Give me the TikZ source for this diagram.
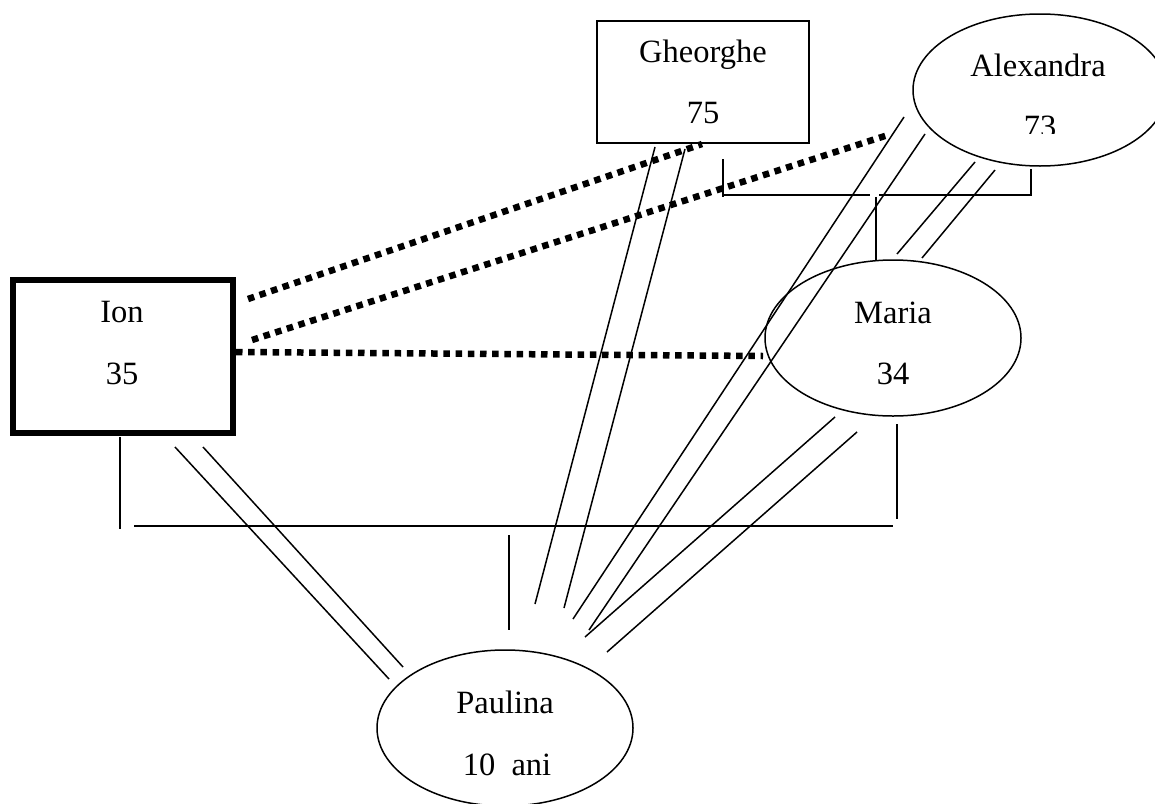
\documentclass[tikz,border=0pt]{standalone}
\usepackage{fontspec}
\setmainfont{Liberation Serif}
\usetikzlibrary{shapes.geometric}
\begin{document}
\begin{tikzpicture}[x=1pt,y=-1pt,
  ln/.style={line width=1.5pt,line cap=butt},
  dots/.style={line width=6.5pt,dash pattern=on 6.5pt off 5.7pt},
  box/.style={draw,line width=1.5pt,rectangle,inner sep=0pt},
  ell/.style={draw,line width=1.5pt,ellipse,inner sep=0pt},
  txt/.style={anchor=base,inner sep=0pt,font=\fontsize{32.5}{38}\selectfont}]
\useasboundingbox (0,0) rectangle (1155,803);
% shapes
\node[box,minimum width=212pt,minimum height=122pt] (gh) at (703,82) {};
\node[box,line width=6pt,minimum width=220pt,minimum height=153pt] (ion) at (123,356.5) {};
\node[ell,minimum width=254pt,minimum height=152pt] (al) at (1040,90) {};
\node[ell,minimum width=256pt,minimum height=156pt] (ma) at (893,338) {};
\node[ell,minimum width=256pt,minimum height=156pt] (pa) at (505,728) {};
% texts
\node[txt] (ghn) at (703,62) {Gheorghe};
\node[txt] (gha) at (703,123) {75};
\node[txt] (aln) at (1038,76) {Alexandra};
\begin{scope}
\clip (900,100) rectangle (1155,133);
\node[txt] (ala) at (1040,137) {73};
\end{scope}
\node[txt] (man) at (893,323) {Maria};
\node[txt] (maa) at (893,384) {34};
\node[txt] (ionn) at (122,322) {Ion};
\node[txt] (iona) at (122,384) {35};
\node[txt] (pan) at (505,713) {Paulina};
\node[txt] (paa) at (507,775) {10\ \ ani};
% connector end points
\coordinate (d1a) at (248,299); \coordinate (d1b) at (702,144);
\coordinate (d2a) at (252,340); \coordinate (d2b) at (888,135);
\coordinate (d3a) at (236,352); \coordinate (d3b) at (763,356);
\coordinate (ip1a) at (175,447); \coordinate (ip1b) at (389,679);
\coordinate (ip2a) at (203,447); \coordinate (ip2b) at (403,667);
\coordinate (gp1a) at (655,147); \coordinate (gp1b) at (535,604);
\coordinate (gp2a) at (685,149); \coordinate (gp2b) at (564,608);
\coordinate (ap1a) at (904,117); \coordinate (ap1b) at (573,619);
\coordinate (ap2a) at (925,134); \coordinate (ap2b) at (589,630);
\coordinate (am1a) at (975,162); \coordinate (am1b) at (897,254);
\coordinate (am2a) at (995,170); \coordinate (am2b) at (922,258);
\coordinate (mp1a) at (835,417); \coordinate (mp1b) at (585,637);
\coordinate (mp2a) at (857,432); \coordinate (mp2b) at (607,652);
% parents bracket (top)
\coordinate (gv1) at (723,159); \coordinate (gv2) at (723,197);
\coordinate (h1a) at (723,195); \coordinate (h1b) at (870,195);
\coordinate (h2a) at (879,195); \coordinate (h2b) at (1031,195);
\coordinate (av1) at (1031,169);
\coordinate (mv1) at (876,197); \coordinate (mv2) at (876,260);
% parents bracket (bottom)
\coordinate (iv1) at (120,437); \coordinate (iv2) at (120,529);
\coordinate (hb1) at (134,526); \coordinate (hb2) at (893,526);
\coordinate (mav1) at (897,424); \coordinate (mav2) at (897,519);
\coordinate (pv1) at (509,535); \coordinate (pv2) at (509,630);
% dotted
\draw[dots] (d1a) -- (d1b);
\draw[dots] (d2a) -- (d2b);
\draw[dots] (d3a) -- (d3b);
% double lines
\draw[ln] (ip1a) -- (ip1b); \draw[ln] (ip2a) -- (ip2b);
\draw[ln] (gp1a) -- (gp1b); \draw[ln] (gp2a) -- (gp2b);
\draw[ln] (ap1a) -- (ap1b); \draw[ln] (ap2a) -- (ap2b);
\draw[ln] (am1a) -- (am1b); \draw[ln] (am2a) -- (am2b);
\draw[ln] (mp1a) -- (mp1b); \draw[ln] (mp2a) -- (mp2b);
% brackets
\draw[ln] (gv1) -- (gv2);
\draw[ln] (h1a) -- (h1b);
\draw[ln] (h2a) -- (h2b) -- (av1);
\draw[ln] (mv1) -- (mv2);
\draw[ln] (iv1) -- (iv2);
\draw[ln] (hb1) -- (hb2);
\draw[ln] (mav1) -- (mav2);
\draw[ln] (pv1) -- (pv2);
\end{tikzpicture}
\end{document}
